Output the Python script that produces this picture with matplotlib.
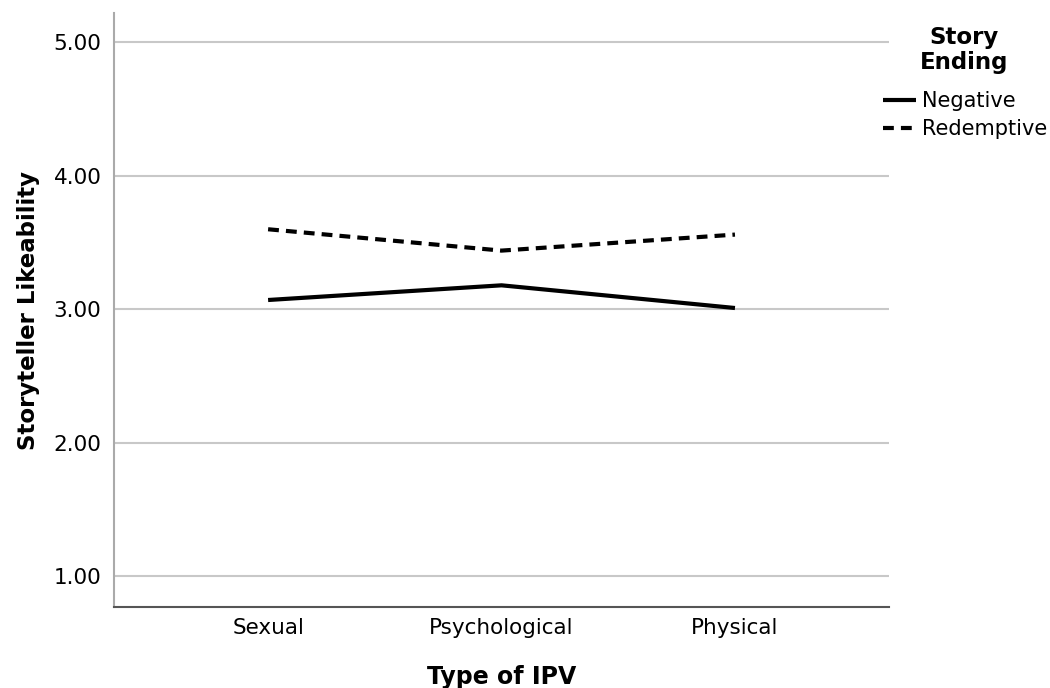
import matplotlib
matplotlib.use("Agg")
import matplotlib.pyplot as plt

# Données
ipv_types = ["Sexual", "Psychological", "Physical"]
negative = [3.07, 3.18, 3.01]
redemptive = [3.60, 3.44, 3.56]
y_ticks = [1.00, 2.00, 3.00, 4.00, 5.00]

plt.rcParams["font.family"] = ["DejaVu Sans"]

fig = plt.figure(figsize=(10.5, 6.88), dpi=100)
ax = fig.add_axes([0.1086, 0.1177, 0.7381, 0.8634])

x = range(len(ipv_types))
ax.plot(x, negative, color="black", lw=3, solid_capstyle="butt", label="Negative")
ax.plot(x, redemptive, color="black", lw=3, dashes=(2.6, 1.7), label="Redemptive")

ax.set_xlim(-0.66, 2.66)
ax.set_ylim(0.77, 5.22)
ax.set_xticks(list(x))
ax.set_xticklabels(ipv_types)
ax.set_yticks(y_ticks)
ax.set_yticklabels([f"{v:.2f}" for v in y_ticks])
ax.tick_params(length=0, labelsize=15.5, pad=9)
ax.tick_params(axis="x", pad=8)

ax.grid(axis="y", color="#c8c8c8", lw=1.5)
ax.set_axisbelow(True)
for s in ["top", "right"]:
    ax.spines[s].set_visible(False)
ax.spines["left"].set_color("#aaaaaa")
ax.spines["left"].set_linewidth(1.5)
ax.spines["bottom"].set_color("#555555")
ax.spines["bottom"].set_linewidth(1.5)

ax.set_xlabel("Type of IPV", fontsize=17, fontweight="bold", labelpad=19)
ax.set_ylabel("Storyteller Likeability", fontsize=16.5, fontweight="bold", labelpad=10)

# Légende à droite, titre centré au-dessus
leg = ax.legend(loc="upper left", bbox_to_anchor=(0.992, 0.868),
                frameon=False, fontsize=15, handlelength=1.6, handletextpad=0.3,
                labelspacing=0.38, borderaxespad=0, borderpad=0)
fig.text(964 / 1050, 1 - 50 / 688, "Story\nEnding", ha="center", va="center",
         multialignment="center", fontsize=16.5, fontweight="bold", linespacing=1.1)

fig.savefig("out.png", dpi=100)
